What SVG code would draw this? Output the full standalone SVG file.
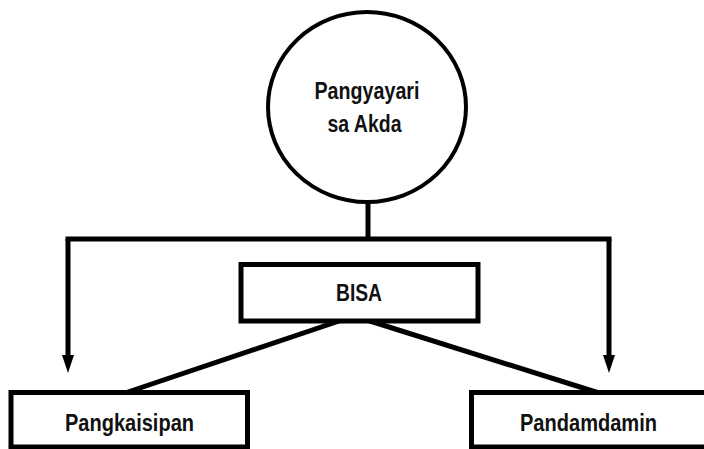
<svg xmlns="http://www.w3.org/2000/svg" width="704" height="449" viewBox="0 0 704 449">
  <style>
    .ln { fill: none; stroke: #000; stroke-width: 5; stroke-linejoin: miter; }
    .box { fill: #fff; stroke: #000; stroke-width: 5; }
    .lbl { font-family: "Liberation Sans Narrow", "Liberation Sans", Arial, sans-serif; font-weight: bold; font-size: 24px; fill: #111; }
  </style>
  <defs>
    <marker id="arrow" markerUnits="userSpaceOnUse" markerWidth="20" markerHeight="14" refX="0" refY="6" orient="auto" viewBox="0 0 20 12">
      <path d="M0,0 L18,6 L0,12 z" fill="#000"/>
    </marker>
  </defs>

  <g id="connectors">
    <line class="ln" x1="368" y1="200" x2="368" y2="239" stroke-width="4"/>
    <line class="ln" x1="65.5" y1="239" x2="611.5" y2="239"/>
    <line class="ln" x1="68" y1="239" x2="68" y2="355" marker-end="url(#arrow)"/>
    <line class="ln" x1="609" y1="239" x2="609" y2="355" marker-end="url(#arrow)"/>
    <line class="ln" x1="354" y1="316" x2="125" y2="393"/>
    <line class="ln" x1="354" y1="316" x2="599" y2="393"/>
  </g>

  <g id="node-pangyayari">
    <ellipse cx="367" cy="107" rx="99" ry="95" fill="#fff" stroke="#000" stroke-width="4"/>
    <text class="lbl" x="314.5" y="99" textLength="105" lengthAdjust="spacingAndGlyphs">Pangyayari</text>
    <text class="lbl" x="327.5" y="132" textLength="74" lengthAdjust="spacingAndGlyphs">sa Akda</text>
  </g>

  <g id="node-bisa">
    <rect class="box" x="241" y="264.5" width="237" height="56.5"/>
    <text class="lbl" x="336" y="301" textLength="46" lengthAdjust="spacingAndGlyphs">BISA</text>
  </g>

  <g id="node-pangkaisipan">
    <rect class="box" x="11" y="392.5" width="236.5" height="54.5"/>
    <text class="lbl" x="65" y="431" textLength="129" lengthAdjust="spacingAndGlyphs">Pangkaisipan</text>
  </g>

  <g id="node-pandamdamin">
    <rect class="box" x="471.5" y="392.5" width="236" height="54.5"/>
    <text class="lbl" x="520" y="431" textLength="137" lengthAdjust="spacingAndGlyphs">Pandamdamin</text>
  </g>
</svg>
